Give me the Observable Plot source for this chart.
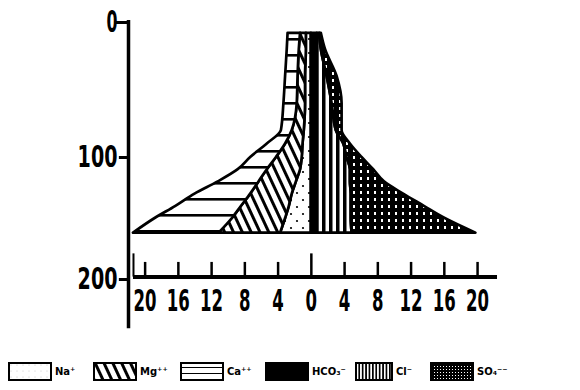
<!DOCTYPE html>
<html><head><meta charset="utf-8">
<script src="https://cdn.jsdelivr.net/npm/d3@7"></script>
<script src="https://cdn.jsdelivr.net/npm/@observablehq/plot@0.6"></script>
<style>
body{margin:0;background:#fff;width:580px;height:390px;overflow:hidden;position:relative;font-family:"DejaVu Sans",sans-serif;}
#chart{position:absolute;left:0;top:0;}
.leg{position:absolute;top:362px;display:flex;align-items:center;font-size:10px;font-weight:bold;color:#000;}
.leg svg{display:block;margin-right:3px}
</style></head><body>
<svg width="0" height="0" style="position:absolute">
<defs>
<pattern id="pNa" width="12" height="14" patternUnits="userSpaceOnUse"><rect width="12" height="14" fill="#fff"/><circle cx="3" cy="4" r="1.1" fill="#000"/><circle cx="9" cy="11" r="1.1" fill="#000"/></pattern>
<pattern id="pMg" width="8" height="8" patternUnits="userSpaceOnUse" patternTransform="rotate(-25)"><rect width="8" height="8" fill="#fff"/><rect x="0" y="0" width="3" height="8" fill="#000"/></pattern>
<pattern id="pCa" width="16" height="16" patternUnits="userSpaceOnUse"><rect width="16" height="16" fill="#fff"/><rect x="0" y="6" width="16" height="2.6" fill="#000"/></pattern>
<pattern id="pCl" width="7" height="7" patternUnits="userSpaceOnUse"><rect width="7" height="7" fill="#fff"/><rect x="0" y="0" width="3.5" height="7" fill="#000"/></pattern>
<pattern id="pSO4" width="7" height="7" patternUnits="userSpaceOnUse"><rect width="7" height="7" fill="#000"/><rect x="3" y="2" width="2" height="3" fill="#fff"/></pattern>
<pattern id="lNa" width="6" height="6" patternUnits="userSpaceOnUse"><rect width="6" height="6" fill="#fff"/><circle cx="3" cy="3" r="0.5" fill="#bbb"/></pattern>
<pattern id="lCa" width="42" height="6" patternUnits="userSpaceOnUse" y="0"><rect width="42" height="6" fill="#fff"/><rect x="0" y="5" width="42" height="1.6" fill="#000"/></pattern>
<pattern id="lCl" width="3.4" height="6" patternUnits="userSpaceOnUse"><rect width="3.4" height="6" fill="#fff"/><rect x="0" y="0" width="1.7" height="6" fill="#000"/></pattern>
<pattern id="lSO4" width="3" height="3" patternUnits="userSpaceOnUse"><rect width="3" height="3" fill="#000"/><rect x="1" y="1" width="1" height="1" fill="#fff"/></pattern>
</defs></svg>
<div id="chart"></div>
<script>
// depth levels (m)
const depths = [8, 20, 40, 60, 80, 90, 100, 110, 120, 130, 140, 150, 162];
// cations (meq/l), plotted to the left
const na   = [0.6, 0.6, 0.7, 0.7, 0.85, 1.0, 1.1, 1.3, 1.8, 2.3, 2.65, 3.1, 3.7];
const mg   = [0.7, 0.85, 0.9, 1.0, 1.45, 2.1, 3.1, 4.0, 4.5, 5.0, 5.75, 6.4, 7.4];
const ca   = [1.5, 1.45, 1.5, 1.6, 1.3, 2.2, 3.1, 3.5, 4.9, 6.7, 7.9, 9.3, 10.3];
// anions (meq/l), plotted to the right
const hco3 = [0.7, 0.75, 0.75, 0.75, 0.75, 0.75, 0.75, 0.75, 0.75, 0.75, 0.75, 0.75, 0.75];
const cl   = [0.3, 0.45, 1.15, 1.75, 2.25, 3.15, 3.55, 3.95, 3.95, 4.05, 4.05, 4.05, 4.15];
const so4  = [0.2, 0.5, 1.2, 1.2, 0.7, 0.8, 1.8, 2.8, 4.1, 6.3, 8.8, 11.3, 14.9];

const ionNames = ["Na⁺", "Mg⁺⁺", "Ca⁺⁺", "HCO₃⁻", "Cl⁻", "SO₄⁻⁻"];
const ionSeries = [na, mg, ca, hco3, cl, so4];
const ionSide = [-1, -1, -1, 1, 1, 1];
const yTicks = [0, 100, 200];
const xTicks = [-20, -16, -12, -8, -4, 0, 4, 8, 12, 16, 20];

const ionFill = {"Na⁺": "url(#pNa)", "Mg⁺⁺": "url(#pMg)", "Ca⁺⁺": "url(#pCa)", "HCO₃⁻": "#000", "Cl⁻": "url(#pCl)", "SO₄⁻⁻": "url(#pSO4)"};
const legendFill = {"Na⁺": "url(#lNa)", "Mg⁺⁺": "url(#pMg)", "Ca⁺⁺": "url(#lCa)", "HCO₃⁻": "#000", "Cl⁻": "url(#lCl)", "SO₄⁻⁻": "url(#lSO4)"};

const rows = [];
ionNames.forEach((ion, i) => depths.forEach((d, j) => rows.push({ion, depth: d, value: ionSide[i] * ionSeries[i][j]})));

// the printed depth axis is slightly compressed below 100
const depthWarp = d => d <= 100 ? d : 100 + (d - 100) * (1.22 / 1.35);

const axisDepth = 198, tickTop = 186, tickTopMid = 179, yEnd = 242;

const chart = Plot.plot({
  width: 580, height: 340,
  marginLeft: 128, marginRight: 78, marginTop: 22, marginBottom: 10,
  style: {fontFamily: '"DejaVu Sans",sans-serif', fontWeight: "bold", background: "#fff", color: "#000", overflow: "visible"},
  x: {domain: [-22, 23], axis: null},
  y: {transform: depthWarp, domain: [0, depthWarp(200)], range: [22, 279], axis: null},
  color: {type: "identity"},
  marks: [
    Plot.areaX(rows, {y: "depth", x: "value", z: "ion", order: null, fill: d => ionFill[d.ion], stroke: "#000", strokeWidth: 2.7, strokeLinejoin: "round", curve: "monotone-y"}),
    // depth axis
    Plot.ruleX([-22], {y1: 0, y2: yEnd, strokeWidth: 3.5, dy: -2}),
    Plot.ruleY(yTicks, {y: d => d, x1: -22, x2: d => d === 0 ? -23.6 : -23.1, strokeWidth: 3}),
    Plot.text(yTicks, {y: d => d, x: -22, dx: -11, text: d => String(d), textAnchor: "end", fontSize: 30, fontWeight: "bold"}),
    // concentration axis
    Plot.ruleY([axisDepth], {x1: -21.4, x2: 22.4, strokeWidth: 4}),
    Plot.ruleX([-21.4], {y1: axisDepth, y2: tickTopMid, strokeWidth: 2}),
    Plot.ruleX(xTicks, {x: d => d, y1: axisDepth, y2: d => d === 0 ? tickTopMid : tickTop, strokeWidth: 2.5}),
    Plot.text(xTicks, {x: d => d, y: axisDepth, dy: 24, text: d => String(Math.abs(d)), fontSize: 30, fontWeight: "bold"})
  ]
});
// condense the tick numerals like the printed narrow typeface
const textGroups = chart.querySelectorAll('g[aria-label="text"]');
textGroups[0].querySelectorAll("text").forEach(t => {
  t.setAttribute("textLength", t.textContent === "0" ? 11 : t.textContent.length * 13.3);
  t.setAttribute("lengthAdjust", "spacingAndGlyphs");
});
textGroups[1].querySelectorAll("text").forEach(t => {
  t.setAttribute("textLength", t.textContent.length * 11.5);
  t.setAttribute("lengthAdjust", "spacingAndGlyphs");
});
document.getElementById("chart").appendChild(chart);

// legend
const legX = [8, 93, 180, 265, 355, 430];
ionNames.forEach((ion, i) => {
  const div = document.createElement("div");
  div.className = "leg";
  div.style.left = legX[i] + "px";
  const w = ion === "Cl⁻" ? 36 : 42;
  div.innerHTML = `<svg width="${w+2}" height="19"><rect x="1" y="1" width="${w}" height="17" fill="${legendFill[ion]}" stroke="#000" stroke-width="2"/></svg><span>${ion}</span>`;
  document.body.appendChild(div);
});
</script>
</body></html>
